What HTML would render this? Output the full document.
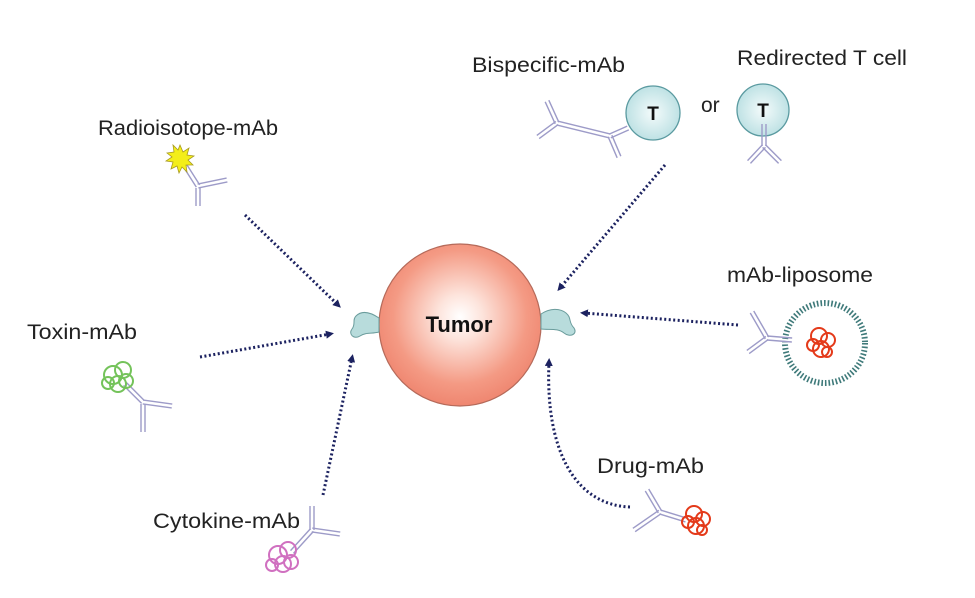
<!DOCTYPE html>
<html><head><meta charset="utf-8"><style>
html,body{margin:0;padding:0;background:#fff;}
svg{display:block;font-family:"Liberation Sans",Arial,sans-serif;}
</style></head><body>
<svg id="s" width="975" height="598" viewBox="0 0 975 598" xmlns="http://www.w3.org/2000/svg">
<defs>
<radialGradient id="tg" cx="50%" cy="45%" r="55%">
<stop offset="0" stop-color="#ffffff"/><stop offset="0.25" stop-color="#fde4dc"/><stop offset="0.75" stop-color="#f49a84"/><stop offset="1" stop-color="#ef8670"/>
</radialGradient>
<radialGradient id="cg" cx="50%" cy="50%" r="55%">
<stop offset="0" stop-color="#f4fbfb"/><stop offset="1" stop-color="#b9dfe2"/>
</radialGradient>
<marker id="ah" markerWidth="8" markerHeight="8" refX="4" refY="4" orient="auto" markerUnits="userSpaceOnUse">
<path d="M0,0 L8,4 L0,8 Z" fill="#1c2260"/></marker>
</defs>
<g fill="none" stroke="#1c2260" stroke-width="3" stroke-dasharray="2 2.5" marker-end="url(#ah)">
<line x1="245" y1="215" x2="338" y2="305"/>
<line x1="200" y1="357" x2="330" y2="334"/>
<line x1="323" y1="495" x2="352" y2="358"/>
<line x1="665" y1="165" x2="560" y2="288"/>
<line x1="738" y1="325" x2="584" y2="313"/>
<path d="M630,507 C575,505 545,450 549,362"/>
</g>
<circle cx="460" cy="325" r="81" fill="url(#tg)" stroke="#b56a5a" stroke-width="1.2"/>
<text x="459" y="332" text-anchor="middle" font-size="22" font-weight="bold" fill="#111">Tumor</text>
<path d="M379,318 C370,312 362,310 356,316 C352,320 356,324 352,329 C348,334 354,340 360,336 C366,332 372,334 379,332 Z" fill="#b8dcdc" stroke="#6a9c9c" stroke-width="1"/>
<path d="M541,314 C550,308 560,308 566,313 C572,318 568,322 574,328 C578,334 570,338 564,333 C558,328 550,330 541,329 Z" fill="#b8dcdc" stroke="#6a9c9c" stroke-width="1"/>
<circle cx="653" cy="113" r="27" fill="url(#cg)" stroke="#5a9aa0" stroke-width="1.3"/>
<text x="653" y="120" text-anchor="middle" font-size="19" font-weight="bold" fill="#111">T</text>
<circle cx="763" cy="110" r="26" fill="url(#cg)" stroke="#5a9aa0" stroke-width="1.3"/>
<text x="763" y="117" text-anchor="middle" font-size="19" font-weight="bold" fill="#111">T</text>
<circle cx="825" cy="343" r="40" fill="none" stroke="#3f7a7a" stroke-width="6" stroke-dasharray="1.6 2"/>
<g id="ab" stroke="#9d9bc8" stroke-width="1.4" fill="none"></g>
<path d="M180,145 l3,7 6,-4 -2,7 7,1 -6,4 5,5 -7,0 1,7 -5,-5 -3,6 -2,-7 -6,3 2,-7 -7,-1 6,-4 -5,-4 7,-1 -1,-7 5,5z" fill="#f3ee1a" stroke="#a89a20" stroke-width="0.8"/>
<g fill="none" stroke-width="2">
<g stroke="#74c35a"><circle cx="113" cy="375" r="9"/><circle cx="123" cy="370" r="8"/><circle cx="118" cy="384" r="8"/><circle cx="108" cy="383" r="6"/><circle cx="126" cy="381" r="7"/></g>
<g stroke="#d070c0"><circle cx="278" cy="555" r="9"/><circle cx="288" cy="550" r="8"/><circle cx="283" cy="564" r="8"/><circle cx="272" cy="565" r="6"/><circle cx="291" cy="562" r="7"/></g>
<g stroke="#e43a1a"><circle cx="694" cy="514" r="8"/><circle cx="703" cy="519" r="7"/><circle cx="696" cy="526" r="8"/><circle cx="688" cy="522" r="6"/><circle cx="702" cy="530" r="5"/></g>
<g stroke="#e43a1a"><circle cx="819" cy="336" r="8"/><circle cx="828" cy="340" r="7"/><circle cx="821" cy="349" r="8"/><circle cx="813" cy="345" r="6"/><circle cx="827" cy="352" r="5"/></g>
</g>
<g font-size="21" fill="#222" lengthAdjust="spacingAndGlyphs">
<text x="98" y="135" textLength="180" lengthAdjust="spacingAndGlyphs">Radioisotope-mAb</text>
<text x="472" y="72" textLength="153" lengthAdjust="spacingAndGlyphs">Bispecific-mAb</text>
<text x="737" y="65" textLength="170" lengthAdjust="spacingAndGlyphs">Redirected T cell</text>
<text x="701" y="112" font-size="21">or</text>
<text x="727" y="282" textLength="146" lengthAdjust="spacingAndGlyphs">mAb-liposome</text>
<text x="27" y="339" textLength="110" lengthAdjust="spacingAndGlyphs">Toxin-mAb</text>
<text x="153" y="528" textLength="147" lengthAdjust="spacingAndGlyphs">Cytokine-mAb</text>
<text x="597" y="473" textLength="107" lengthAdjust="spacingAndGlyphs">Drug-mAb</text>
</g>
<script>
var g=document.getElementById('ab');
function d(x1,y1,x2,y2){var dx=x2-x1,dy=y2-y1,l=Math.hypot(dx,dy),nx=-dy/l*2,ny=dx/l*2;
[1,-1].forEach(function(s){var e=document.createElementNS('http://www.w3.org/2000/svg','line');
e.setAttribute('x1',x1+nx*s);e.setAttribute('y1',y1+ny*s);e.setAttribute('x2',x2+nx*s);e.setAttribute('y2',y2+ny*s);g.appendChild(e);});}
d(198,188,198,206);d(198,186,227,180);d(198,186,184,164);
d(143,404,143,432);d(143,402,172,406);d(143,402,125,384);
d(312,506,312,530);d(312,530,340,534);d(312,530,292,552);
d(660,512,647,490);d(660,512,634,530);d(660,512,686,520);
d(767,338,752,312);d(767,338,748,352);d(767,338,792,340);
d(557,123,547,101);d(557,123,538,137);d(557,123,610,136);d(610,136,619,157);d(610,136,628,128);
d(764,124,764,146);d(764,146,749,162);d(764,146,780,162);
</script>
</svg>
</body></html>
